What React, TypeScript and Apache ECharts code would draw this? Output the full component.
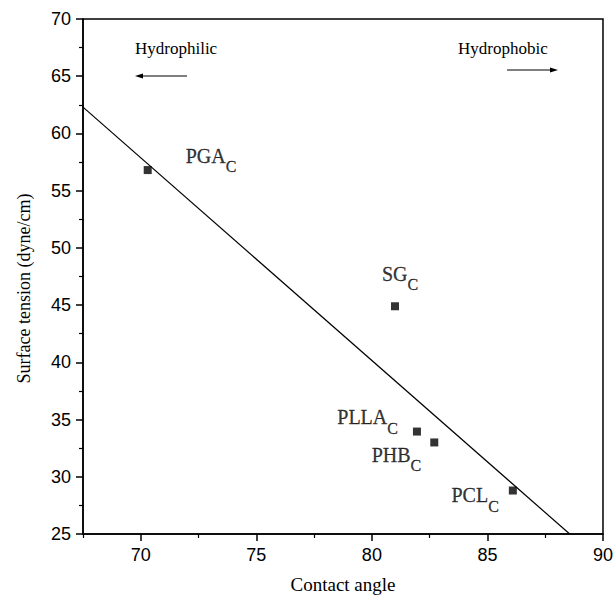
import React, { useEffect, useRef } from 'react';
import * as echarts from 'echarts';

// ---- data ----
const pointNames = ['PGA', 'SG', 'PLLA', 'PHB', 'PCL'];
const contactAngle = [70.3, 81.0, 81.95, 82.7, 86.1];
const surfaceTension = [56.8, 44.9, 33.95, 33.0, 28.8];
const fitLineX = [67.5, 88.56];
const fitLineY = [62.3, 25];
const xMajorTicks = [70, 75, 80, 85, 90];
const xMinorTicks = [67.5, 72.5, 77.5, 82.5, 87.5];

// ---- label placement (style, not data) ----
const labelPlacement: { align: 'left' | 'right'; offset: [number, number] }[] = [
  { align: 'left', offset: [38, -10] },
  { align: 'left', offset: [-13, -28] },
  { align: 'right', offset: [-19, -10] },
  { align: 'right', offset: [-13, 17] },
  { align: 'right', offset: [-14, 9] },
];

const SERIF = '"Liberation Serif", "Times New Roman", serif';
const SANS = '"Liberation Sans", Arial, sans-serif';

export default function App() {
  const ref = useRef<HTMLDivElement>(null);

  useEffect(() => {
    if (!ref.current) return;
    const chart = echarts.init(ref.current, undefined, { renderer: 'svg' });

    const scatterData = pointNames.map((n, i) => ({
      name: n,
      value: [contactAngle[i], surfaceTension[i]],
      label: {
        show: true,
        position: 'inside',
        align: labelPlacement[i].align,
        verticalAlign: 'middle',
        offset: labelPlacement[i].offset,
        color: '#000',
        formatter: `{a|${n}}{b|C}`,
        rich: {
          a: {
            fontFamily: SERIF, fontSize: 20, lineHeight: 20, verticalAlign: 'top', color: '#000',
            textBorderColor: '#000', textBorderWidth: 0.3,
          },
          b: {
            fontFamily: SERIF, fontSize: 16, lineHeight: 29, verticalAlign: 'bottom', color: '#000',
            textBorderColor: '#000', textBorderWidth: 0.3,
          },
        },
      },
    }));

    const lineData = fitLineX.map((x, i) => [x, fitLineY[i]]);

    chart.setOption({
      animation: false,
      backgroundColor: '#fff',
      grid: {
        left: 83,
        right: 12,
        top: 19,
        bottom: 60,
        show: true,
        borderColor: '#000',
        borderWidth: 1.5,
        backgroundColor: 'transparent',
      },
      xAxis: [
        {
          type: 'value',
          min: 67.5,
          max: 90,
          position: 'bottom',
          axisLine: { show: true, onZero: false, lineStyle: { color: '#000', width: 1.5 } },
          axisTick: { show: true, customValues: xMajorTicks, length: 7, lineStyle: { color: '#000', width: 1.5 } },
          axisLabel: { customValues: xMajorTicks, color: '#000', fontSize: 18, fontFamily: SANS, margin: 12 },
          splitLine: { show: false },
          name: 'Contact angle',
          nameLocation: 'middle',
          nameGap: 41,
          nameTextStyle: { color: '#000', fontSize: 19, fontFamily: SERIF },
        },
        {
          type: 'value',
          min: 67.5,
          max: 90,
          position: 'bottom',
          axisLine: { show: false, onZero: false },
          axisTick: { show: true, customValues: xMinorTicks, length: 4, lineStyle: { color: '#000', width: 1.2 } },
          axisLabel: { show: false },
          splitLine: { show: false },
        },
      ],
      yAxis: {
        type: 'value',
        min: 25,
        max: 70,
        interval: 5,
        axisLine: { show: true, onZero: false, lineStyle: { color: '#000', width: 1.5 } },
        axisTick: { show: true, length: 7, lineStyle: { color: '#000', width: 1.5 } },
        minorTick: { show: true, splitNumber: 2, length: 4, lineStyle: { color: '#000', width: 1.2 } },
        axisLabel: { color: '#000', fontSize: 18, fontFamily: SANS, margin: 12 },
        splitLine: { show: false },
        minorSplitLine: { show: false },
        name: 'Surface tension (dyne/cm)',
        nameLocation: 'middle',
        nameGap: 50,
        nameTextStyle: { color: '#000', fontSize: 18, fontFamily: SERIF, padding: [0, 24, 0, 0] },
      },
      series: [
        {
          type: 'line',
          data: lineData,
          showSymbol: false,
          symbol: 'none',
          lineStyle: { color: '#000', width: 1.2 },
          silent: true,
          z: 1,
        },
        {
          type: 'scatter',
          data: scatterData,
          symbol: 'rect',
          symbolSize: 8,
          itemStyle: { color: '#000' },
          z: 3,
        },
      ],
      graphic: [
        {
          type: 'text',
          x: 135,
          y: 48,
          style: { text: 'Hydrophilic', fontFamily: SERIF, fontSize: 17, fill: '#000', verticalAlign: 'middle', align: 'left' },
        },
        {
          type: 'line',
          shape: { x1: 142, y1: 76, x2: 187, y2: 76 },
          style: { stroke: '#000', lineWidth: 1 },
        },
        {
          type: 'polygon',
          shape: { points: [[135, 76], [143, 73.5], [143, 78.5]] },
          style: { fill: '#000' },
        },
        {
          type: 'text',
          x: 458,
          y: 48,
          style: { text: 'Hydrophobic', fontFamily: SERIF, fontSize: 17, fill: '#000', verticalAlign: 'middle', align: 'left' },
        },
        {
          type: 'line',
          shape: { x1: 507, y1: 70, x2: 551, y2: 70 },
          style: { stroke: '#000', lineWidth: 1 },
        },
        {
          type: 'polygon',
          shape: { points: [[558, 70], [550, 67.5], [550, 72.5]] },
          style: { fill: '#000' },
        },
      ],
    });

    return () => {
      chart.dispose();
    };
  }, []);

  return (
    <div
      ref={ref}
      style={{ position: 'absolute', left: 0, top: 0, width: 616, height: 599, background: '#fff' }}
    />
  );
}
